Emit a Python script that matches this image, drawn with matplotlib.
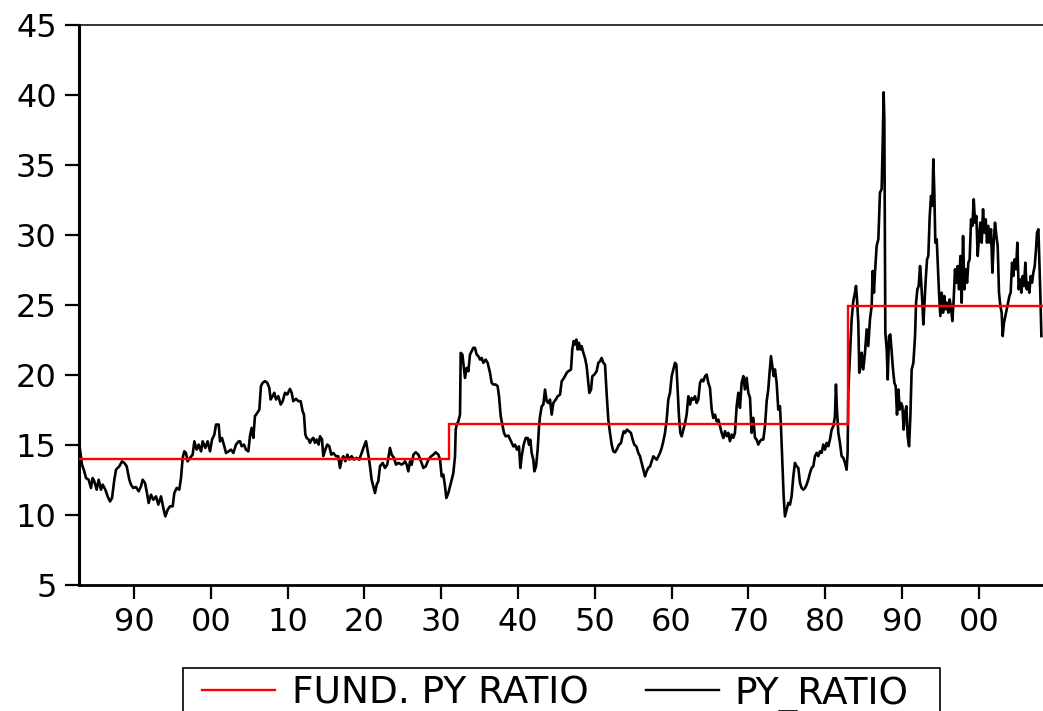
import matplotlib
matplotlib.use("Agg")
import matplotlib.pyplot as plt
from matplotlib.lines import Line2D
from matplotlib.patches import Rectangle

# Price / yield ratio, monthly-ish readings (decimal years)
years = [
    1882.97, 1883.23, 1883.53, 1883.75, 1884.10, 1884.40, 1884.62, 1884.84, 1885.14, 1885.40,
    1885.70, 1885.92, 1886.27, 1886.57, 1886.88, 1887.14, 1887.44, 1887.66, 1888.09, 1888.44,
    1888.74, 1889.05, 1889.39, 1889.61, 1889.91, 1890.26, 1890.61, 1890.91, 1891.13, 1891.43,
    1891.65, 1891.91, 1892.21, 1892.52, 1892.87, 1893.17, 1893.52, 1893.82, 1894.08, 1894.39,
    1894.69, 1895.04, 1895.25, 1895.56, 1895.90, 1896.12, 1896.34, 1896.55, 1896.77, 1896.99,
    1897.29, 1897.64, 1897.86, 1898.16, 1898.42, 1898.73, 1898.94, 1899.29, 1899.59, 1899.90,
    1900.16, 1900.46, 1900.68, 1901.03, 1901.20, 1901.46, 1901.76, 1901.98, 1902.33, 1902.63,
    1902.94, 1903.28, 1903.63,
    1903.80, 1904.02, 1904.32, 1904.58, 1904.89, 1905.10, 1905.32, 1905.54, 1905.75, 1906.06,
    1906.32, 1906.53, 1906.75, 1907.06, 1907.36, 1907.62, 1907.79, 1908.05, 1908.27, 1908.49,
    1908.79, 1909.10, 1909.36, 1909.66, 1909.96, 1910.31, 1910.53, 1910.74, 1911.09, 1911.40,
    1911.70, 1911.96, 1912.13, 1912.31, 1912.48, 1912.74, 1912.91, 1913.13, 1913.35, 1913.57,
    1913.78, 1914.04, 1914.22, 1914.48, 1914.65, 1914.91, 1915.17, 1915.43, 1915.69, 1915.95,
    1916.30, 1916.60, 1916.82, 1917.04, 1917.25, 1917.52, 1917.78, 1918.04, 1918.34, 1918.64,
    1918.99, 1919.34, 1919.64, 1919.95, 1920.21, 1920.51, 1920.73, 1920.94, 1921.16, 1921.38,
    1921.60, 1921.81, 1922.03, 1922.38, 1922.68, 1922.98, 1923.33, 1923.55, 1923.85, 1924.11,
    1924.42, 1924.85, 1925.15,
    1925.29, 1925.51, 1925.72, 1925.94, 1926.16, 1926.38, 1926.68, 1927.03, 1927.37, 1927.68,
    1927.98, 1928.33, 1928.68, 1928.98, 1929.28, 1929.63, 1929.85, 1930.06, 1930.28, 1930.50,
    1930.67, 1930.93, 1931.15, 1931.37, 1931.58, 1931.80, 1931.89, 1932.02, 1932.23, 1932.45,
    1932.54, 1932.76, 1932.93, 1933.10, 1933.32, 1933.54, 1933.75, 1933.97, 1934.19, 1934.40,
    1934.62, 1934.84, 1935.06, 1935.27, 1935.49, 1935.79, 1936.05, 1936.36, 1936.57, 1936.79,
    1937.10, 1937.35, 1937.53, 1937.75, 1937.96, 1938.18, 1938.40, 1938.75, 1939.09, 1939.40,
    1939.61, 1939.87, 1940.13, 1940.31, 1940.48, 1940.74, 1941.00, 1941.26, 1941.44, 1941.61,
    1941.78, 1942.00, 1942.13, 1942.35, 1942.56, 1942.74, 1942.87, 1943.09, 1943.30, 1943.52,
    1943.74, 1943.95, 1944.17, 1944.39, 1944.60, 1944.91, 1945.17, 1945.47, 1945.69, 1945.99,
    1946.34, 1946.55, 1946.90, 1947.07, 1947.25, 1947.42, 1947.60, 1947.77, 1947.94, 1948.12,
    1948.29, 1948.51, 1948.72, 1948.94, 1949.16, 1949.29, 1949.51, 1949.68, 1949.94, 1950.24,
    1950.46, 1950.68, 1950.89, 1951.11, 1951.33, 1951.55, 1951.76, 1951.98, 1952.20, 1952.41,
    1952.63, 1952.85, 1953.15, 1953.41, 1953.59, 1953.76, 1953.93, 1954.19, 1954.45, 1954.71,
    1954.93, 1955.15, 1955.41, 1955.67, 1955.89, 1956.10, 1956.32, 1956.54, 1956.75, 1956.97,
    1957.19, 1957.40, 1957.62, 1957.84, 1958.06, 1958.27, 1958.49, 1958.71, 1958.92, 1959.14,
    1959.36, 1959.57, 1959.79, 1960.01, 1960.23, 1960.44, 1960.62, 1960.79, 1960.96, 1961.14,
    1961.31, 1961.53, 1961.75, 1961.96, 1962.18, 1962.40, 1962.61, 1962.83, 1963.05, 1963.26,
    1963.48, 1963.70, 1963.92, 1964.13, 1964.35, 1964.57, 1964.78, 1965.00, 1965.22, 1965.43,
    1965.65, 1965.87, 1966.09, 1966.30, 1966.52, 1966.74,
    1966.95, 1967.17, 1967.38, 1967.60, 1967.82, 1968.04, 1968.25, 1968.47, 1968.69, 1968.90,
    1969.12, 1969.34, 1969.55, 1969.77, 1969.99, 1970.21, 1970.42, 1970.64, 1970.86, 1971.07,
    1971.29, 1971.51, 1971.72, 1971.94, 1972.16, 1972.38, 1972.59, 1972.72, 1972.94, 1973.11,
    1973.29, 1973.46, 1973.68, 1973.89, 1974.11, 1974.24, 1974.42, 1974.59, 1974.76, 1974.98,
    1975.20, 1975.41, 1975.63, 1975.85, 1976.06, 1976.28, 1976.50, 1976.72, 1976.93, 1977.15,
    1977.37, 1977.58, 1977.80, 1978.02, 1978.23, 1978.45, 1978.67, 1978.89, 1979.10, 1979.32,
    1979.54, 1979.75, 1979.97, 1980.19, 1980.40, 1980.62, 1980.84, 1981.06, 1981.27, 1981.40,
    1981.53, 1981.71, 1981.92, 1982.14, 1982.36, 1982.58, 1982.79, 1982.92, 1983.01, 1983.14,
    1983.27, 1983.44, 1983.66, 1983.88, 1984.01, 1984.14, 1984.31, 1984.44, 1984.62, 1984.75,
    1984.96, 1985.18, 1985.40, 1985.61, 1985.83, 1986.05, 1986.18, 1986.35, 1986.48, 1986.70,
    1986.92, 1987.13, 1987.35, 1987.48, 1987.61, 1987.70, 1987.83,
    1988.01, 1988.14, 1988.31, 1988.48, 1988.66, 1988.83, 1989.01, 1989.18, 1989.35, 1989.53,
    1989.70, 1989.87, 1990.05, 1990.22, 1990.39, 1990.57, 1990.74, 1990.92, 1991.09, 1991.26,
    1991.48, 1991.70, 1991.83, 1992.00, 1992.17, 1992.35, 1992.48, 1992.65, 1992.78, 1992.91,
    1993.09, 1993.26, 1993.43, 1993.61, 1993.78, 1993.95, 1994.08, 1994.21, 1994.34, 1994.52,
    1994.65, 1994.82, 1994.99, 1995.17, 1995.34, 1995.52, 1995.69, 1995.86, 1996.04, 1996.21,
    1996.38, 1996.56, 1996.73, 1996.90, 1997.08, 1997.25, 1997.43, 1997.60, 1997.77, 1997.95,
    1998.12, 1998.29, 1998.47, 1998.64, 1998.81, 1998.99, 1999.16, 1999.34, 1999.51, 1999.68,
    1999.86, 2000.03, 2000.20, 2000.38, 2000.55, 2000.72, 2000.90, 2001.07, 2001.24, 2001.42,
    2001.59, 2001.77, 2001.94, 2002.11, 2002.29, 2002.46, 2002.63, 2002.81, 2002.98, 2003.11,
    2003.28, 2003.46, 2003.63, 2003.81, 2003.98, 2004.15, 2004.33, 2004.50, 2004.67, 2004.85,
    2005.02, 2005.19, 2005.37, 2005.54, 2005.72, 2005.89, 2006.06, 2006.24, 2006.41, 2006.58,
    2006.76, 2006.93, 2007.10, 2007.28, 2007.45, 2007.58, 2007.76, 2007.89, 2008.02, 2008.15,
]

py_ratio = [
    14.67, 13.60, 13.12, 12.64, 12.52, 11.93, 12.64, 12.40, 11.81, 12.52,
    11.81, 12.17, 11.81, 11.33, 10.97, 11.21, 12.52, 13.24, 13.48, 13.83,
    13.72, 13.48, 12.52, 12.17, 11.93, 12.00, 11.69, 12.05, 12.52, 12.29,
    11.69, 10.86, 11.45, 11.09, 11.33, 10.74, 11.33, 10.50, 9.90, 10.38,
    10.62, 10.62, 11.57, 11.93, 11.81, 12.64, 14.08, 14.55, 14.43, 13.83,
    14.08, 14.31, 15.26, 14.67, 15.03, 14.55, 15.26, 14.79, 15.26, 14.55,
    15.38, 15.74, 16.46, 16.46, 15.26, 15.50, 14.91, 14.43, 14.55, 14.67,
    14.43, 15.03, 15.26,
    15.27, 14.91, 15.03, 14.67, 14.55, 15.63, 16.22, 15.51, 17.06, 17.30,
    17.53, 19.20, 19.44, 19.56, 19.44, 19.08, 18.25, 18.49, 18.73, 18.25,
    18.49, 17.89, 18.13, 18.73, 18.61, 19.01, 18.73, 18.13, 18.30, 18.13,
    18.13, 17.41, 17.18, 15.75, 15.51, 15.39, 15.15, 15.39, 15.51, 15.15,
    15.39, 15.03, 15.63, 15.39, 14.20, 14.67, 15.03, 14.91, 14.31, 14.43,
    14.20, 14.20, 13.36, 13.96, 14.20, 13.84, 14.31, 13.96, 14.20, 13.96,
    14.08, 13.96, 14.43, 14.91, 15.27, 14.31, 13.48, 12.53, 12.05, 11.57,
    12.17, 12.41, 13.48, 13.72, 13.36, 13.60, 14.79, 14.31, 14.08, 13.60,
    13.72, 13.60, 13.72,
    13.83, 13.59, 13.12, 13.83, 13.59, 14.31, 14.48, 14.31, 13.83, 13.36,
    13.47, 13.95, 14.19, 14.31, 14.48, 14.31, 13.95, 12.76, 12.88, 12.04,
    11.21, 11.57, 12.04, 12.52, 13.00, 14.19, 16.10, 16.45, 16.69, 17.17,
    21.58, 21.46, 20.63, 19.79, 20.51, 20.27, 21.46, 21.70, 21.94, 21.94,
    21.46, 21.34, 21.10, 21.22, 20.87, 21.10, 20.87, 20.15, 19.44, 19.32,
    19.32, 19.20, 18.48, 17.05, 16.45, 15.86, 15.62, 15.67, 15.26, 14.90,
    15.02, 14.67, 14.90, 13.36, 14.19, 15.02, 15.50, 15.50, 15.02, 15.38,
    14.43, 13.95, 13.12, 13.47, 14.67, 16.34, 17.05, 17.77, 17.89, 18.96,
    18.12, 18.00, 18.24, 17.17, 18.00, 18.24, 18.48, 18.60, 19.55, 19.79,
    20.15, 20.27, 20.39, 21.82, 22.42, 22.18, 22.53, 21.82, 22.30, 21.82,
    22.06, 21.58, 21.22, 20.63, 19.44, 18.72, 18.96, 19.91, 20.03, 20.27,
    20.87, 20.98, 21.22, 20.87, 20.75, 18.60, 16.81, 15.86, 15.02, 14.55,
    14.48, 14.67, 15.02, 15.14, 15.62, 15.98, 15.86, 16.10, 15.98, 15.86,
    15.38, 15.02, 14.90, 14.43, 14.19, 13.71, 13.24, 12.76, 13.12, 13.36,
    13.47, 13.83, 14.19, 14.07, 13.95, 14.19, 14.43, 14.79, 15.26, 15.86,
    16.81, 18.24, 18.72, 19.91, 20.39, 20.87, 20.75, 18.96, 17.05, 15.86,
    15.62, 16.10, 16.57, 17.17, 18.48, 17.89, 18.36, 18.24, 18.48, 18.00,
    18.24, 19.44, 19.67, 19.55, 19.91, 20.03, 19.44, 19.08, 17.53, 16.93,
    17.17, 16.69, 16.81, 16.34, 15.86, 15.50,
    15.99, 15.63, 15.87, 15.27, 15.75, 15.51, 15.87, 17.77, 18.73, 17.65,
    19.44, 19.92, 18.97, 19.80, 18.73, 18.37, 15.87, 16.94, 15.51, 15.39,
    15.03, 15.27, 15.39, 15.39, 16.34, 18.13, 18.97, 19.92, 21.35, 20.63,
    19.92, 20.40, 19.44, 17.53, 17.77, 16.34, 13.72, 11.34, 9.90, 10.38,
    10.86, 10.74, 11.34, 12.77, 13.72, 13.48, 13.36, 12.29, 11.93, 11.81,
    11.93, 12.17, 12.53, 13.00, 13.36, 13.48, 14.20, 14.44, 14.20, 14.55,
    14.44, 15.03, 14.67, 15.15, 14.91, 15.39, 16.10, 16.34, 17.06, 19.32,
    17.53, 15.87, 15.15, 14.20, 14.08, 13.72, 13.24, 14.44, 18.85, 20.40,
    22.07, 23.97, 25.28, 25.88, 26.36, 25.40, 23.73, 20.16, 20.63, 21.59,
    20.40, 21.59, 23.26, 22.07, 23.97, 24.93, 27.43, 25.88, 27.31, 29.22,
    29.70, 33.03, 33.27, 36.37, 40.19, 38.28, 23.02,
    21.82, 19.68, 22.78, 22.90, 21.58, 20.39, 19.44, 19.20, 17.17, 18.96,
    17.53, 18.00, 17.77, 16.10, 17.29, 17.77, 15.62, 14.91, 17.05, 20.39,
    20.87, 22.78, 25.16, 26.12, 26.35, 27.78, 26.83, 25.16, 23.61, 24.92,
    26.83, 28.26, 28.50, 31.36, 32.79, 32.08, 35.41, 33.03, 29.45, 29.69,
    28.02, 25.88, 24.21, 25.88, 24.45, 25.64, 24.69, 25.16, 24.45, 25.40,
    24.80, 23.85, 25.40, 27.55, 26.59, 27.78, 26.12, 28.50, 25.16, 29.93,
    26.12, 27.55, 26.59, 28.02, 28.26, 31.12, 30.65, 32.55, 30.88, 31.36,
    28.50, 29.93, 30.88, 29.45, 31.84, 30.17, 31.12, 29.45, 30.65, 29.45,
    30.41, 27.31, 29.45, 30.88, 29.93, 29.22, 25.88, 24.92, 24.45, 22.78,
    23.73, 24.21, 24.69, 25.16, 25.64, 25.88, 28.02, 27.07, 28.26, 27.55,
    29.45, 26.12, 26.83, 25.88, 27.07, 26.35, 28.02, 26.12, 26.59, 25.88,
    27.07, 26.59, 27.31, 27.78, 28.98, 30.17, 30.41, 28.02, 25.64, 22.78,
]

# Fundamental ratio: constant within each regime
fund_edges = [1882.84, 1931.0, 1983.0, 2008.75]
fund_levels = [14.0, 16.5, 24.95]

x_ticks = list(range(1890, 2001, 10))
y_ticks = list(range(5, 46, 5))

series_labels = ["FUND. PY RATIO", "PY_RATIO"]
series_colors = ["#ff0000", "black"]

plt.rcParams["font.family"] = ["DejaVu Sans"]

W, H = 1043, 711
fig = plt.figure(figsize=(W / 100, H / 100), dpi=100)
ax = fig.add_axes([79 / W, 1 - 585 / H, 967 / W, 560 / H])

ax.plot(years, py_ratio, color=series_colors[1], linewidth=1.9, zorder=2)
ax.stairs(fund_levels, fund_edges, baseline=None, color=series_colors[0],
          linewidth=1.7, zorder=3)

ax.set_xlim(fund_edges[0], fund_edges[-1])
ax.set_ylim(5, 45)
ax.set_xticks(x_ticks)
ax.set_xticklabels([f"{t % 100:02d}" for t in x_ticks])
ax.set_yticks(y_ticks)

ax.tick_params(axis="both", direction="out", length=10, width=1.6,
               labelsize=23, pad=6, colors="black")
ax.spines["left"].set_linewidth(2.2)
ax.spines["bottom"].set_linewidth(2.0)
ax.spines["top"].set_linewidth(1.1)
ax.spines["right"].set_visible(False)

# legend box at the bottom (runs off the lower edge of the figure)
px = lambda x, y: (x / W, 1 - y / H)
fig.patches.append(Rectangle(px(183, 740), 757 / W, 72 / H,
                             transform=fig.transFigure, fill=False,
                             edgecolor="black", linewidth=1.2))
key_y = 690
for (x0, x1, tx), lab, col in zip([(202, 275, 292), (646, 719, 734)],
                                  series_labels, series_colors):
    fig.add_artist(Line2D([x0 / W, x1 / W], [px(0, key_y)[1]] * 2,
                          transform=fig.transFigure, color=col, linewidth=1.7))
    fig.text(tx / W, px(0, key_y)[1], lab, fontsize=27, ha="left",
             va="center_baseline", color="black")

fig.savefig("out.png", dpi=100)
